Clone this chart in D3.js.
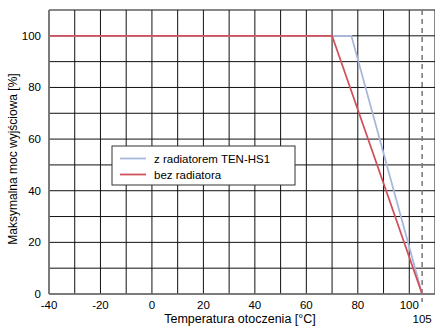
<!DOCTYPE html>
<html><head><meta charset="utf-8">
<script src="https://cdn.jsdelivr.net/npm/d3@7"></script>
<style>body{margin:0;background:#fff}svg{display:block;font-family:"Liberation Sans",Arial,sans-serif}</style>
</head><body><svg id="c" width="435" height="326"></svg>
<script>
const xTicks = [-40,-20,0,20,40,60,80,100];
const yTicks = [0,20,40,60,80,100];
const gridX = d3.range(-40,111,10);
const gridY = d3.range(0,111,10);
const seriesNames = ["z radiatorem TEN-HS1","bez radiatora"];
const seriesColors = ["#a8b8dc","#d0505c"];
const blueT = [-40,77.5,105];
const blueP = [100,100,0];
const redT = [-40,70,105];
const redP = [100,100,0];
const limitT = 105;

const svg = d3.select("#c");
const x = d3.scaleLinear().domain([-40,110]).range([49,435]);
const y = d3.scaleLinear().domain([0,110]).range([294,10]);

// grid
svg.append("g").selectAll("line").data(gridX).join("line")
  .attr("x1",d=>x(d)).attr("x2",d=>x(d)).attr("y1",y(0)).attr("y2",y(110))
  .attr("stroke","#111").attr("stroke-width",1);
svg.append("g").selectAll("line").data(gridY).join("line")
  .attr("y1",d=>y(d)).attr("y2",d=>y(d)).attr("x1",x(-40)).attr("x2",x(110))
  .attr("stroke","#111").attr("stroke-width",1);
// axes lines
svg.append("line").attr("x1",x(-40)).attr("x2",x(-40)).attr("y1",y(0)).attr("y2",y(110)).attr("stroke","#777").attr("stroke-width",1.5);
svg.append("line").attr("x1",x(-40)).attr("x2",x(110)).attr("y1",y(0)).attr("y2",y(0)).attr("stroke","#777").attr("stroke-width",1.5);

// dashed limit
svg.append("line").attr("x1",x(limitT)).attr("x2",x(limitT)).attr("y1",y(110)).attr("y2",y(0)+8)
  .attr("stroke","#777").attr("stroke-width",1.5).attr("stroke-dasharray","5,4");

// series
const line = d3.line().x(d=>x(d[0])).y(d=>y(d[1]));
svg.append("path").datum(blueT.map((t,i)=>[t,blueP[i]])).attr("d",line)
  .attr("fill","none").attr("stroke",seriesColors[0]).attr("stroke-width",1.8);
svg.append("path").datum(redT.map((t,i)=>[t,redP[i]])).attr("d",line)
  .attr("fill","none").attr("stroke",seriesColors[1]).attr("stroke-width",1.8);

// tick labels
svg.append("g").selectAll("text").data(yTicks).join("text")
  .attr("x",41).attr("y",d=>y(d)).attr("dy","0.35em").attr("text-anchor","end")
  .attr("font-size",11.5).attr("fill","#000").text(d=>d);
svg.append("g").selectAll("text").data(xTicks).join("text")
  .attr("x",d=>x(d)).attr("y",309).attr("text-anchor","middle")
  .attr("font-size",11.5).attr("fill","#000").text(d=>d);
svg.append("text").attr("x",x(limitT)).attr("y",323).attr("text-anchor","middle")
  .attr("font-size",11.5).text(limitT);

// axis titles
svg.append("text").attr("x",240).attr("y",322.5).attr("text-anchor","middle")
  .attr("font-size",12.5).text("Temperatura otoczenia [°C]");
svg.append("text").attr("transform","translate(17,159) rotate(-90)").attr("text-anchor","middle")
  .attr("font-size",12).text("Maksymalna moc wyjściowa [%]");

// legend
const lg = svg.append("g");
lg.append("rect").attr("x",112).attr("y",146).attr("width",183).attr("height",39)
  .attr("fill","#fff").attr("stroke","#333").attr("stroke-width",1);
seriesNames.forEach((n,i)=>{
  const yy = 158.5 + i*16;
  lg.append("line").attr("x1",120).attr("x2",146).attr("y1",yy).attr("y2",yy)
    .attr("stroke",seriesColors[i]).attr("stroke-width",1.8);
  lg.append("text").attr("x",154).attr("y",yy).attr("dy","0.35em").attr("font-size",11.5).text(n);
});
</script></body></html>
